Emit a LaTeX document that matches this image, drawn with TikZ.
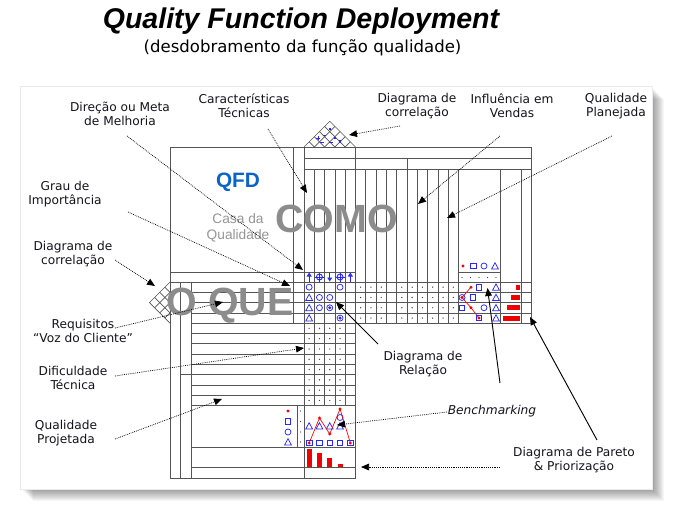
\documentclass[tikz,border=0pt]{standalone}
\usepackage{fontspec}
\setmainfont{DejaVu Sans}
\newfontfamily\arialf{Liberation Sans}
\usetikzlibrary{arrows.meta}
\definecolor{gridc}{RGB}{85,85,85}
\definecolor{symb}{RGB}{40,40,250}
\definecolor{qfdblue}{RGB}{10,100,200}
\definecolor{bigtxt}{RGB}{140,140,140}
\definecolor{smalltxt}{RGB}{150,150,150}
\definecolor{lbltxt}{RGB}{20,20,30}
\definecolor{redc}{RGB}{240,0,0}
\tikzset{
  sym/.style={draw=symb,line width=0.55pt},
  cir/.pic={\draw[sym] (0,0) circle[radius=3];},
  cird/.pic={\draw[sym] (0,0) circle[radius=3];\fill[symb] (0,0) circle[radius=1.7];},
  trg/.pic={\draw[sym] (-3.4,3) -- (3.4,3) -- (0,-3.3) -- cycle;},
  sqr/.pic={\draw[sym] (-2.8,-2.8) rectangle (2.8,2.8);},
  rdot/.pic={\fill[redc] (0,0) circle[radius=1.6];},
  mdot/.pic={\fill[black!75] (0,0) circle[radius=0.7];},
  uparr/.pic={\draw[symb,line width=0.8pt] (0,4.5) -- (0,-1);\fill[symb] (-2.6,-0.5) -- (2.6,-0.5) -- (0,-4.5) -- cycle;},
  dnarr/.pic={\draw[symb,line width=0.8pt] (0,-4.5) -- (0,1);\fill[symb] (-2.6,0.5) -- (2.6,0.5) -- (0,4.5) -- cycle;},
  cplus/.pic={\draw[symb,line width=0.7pt] (0,0) circle[radius=3];\draw[symb,line width=0.7pt] (-4.5,0) -- (4.5,0) (0,-4.5) -- (0,4.5);},
  rbar/.style={fill=redc,draw=none}
}
\begin{document}
\begin{tikzpicture}[x=0.75pt,y=-0.75pt,
  gl/.style={draw=gridc,line width=0.5pt},
  lbl/.style={align=center,text=lbltxt,inner sep=0pt,font=\fontsize{9.15pt}{10.5pt}\selectfont},
  dotarr/.style={line width=0.55pt,dash pattern=on 0.6pt off 0.8pt,-{Triangle[length=6pt,width=5pt]}},
  solarr/.style={line width=0.7pt,-{Triangle[length=6pt,width=5pt]}},
  bigword/.style={text=bigtxt,inner sep=0pt,font=\arialf\bfseries\fontsize{29.5pt}{32pt}\selectfont},
  casa/.style={text=smalltxt,inner sep=0pt,font=\arialf\fontsize{10.3pt}{12pt}\selectfont}]
\useasboundingbox (0,0) rectangle (676,512);
\fill[white] (0,0) rectangle (676,512);
% page with shadow
\foreach \i in {1,...,12} {\fill[black,opacity=0.035] ({21+\i},{87+\i}) rectangle ({652+\i},{489+\i});}
\fill[white] (20,86) rectangle (652,489);
\draw[black!8,line width=0.5pt] (20,86) rectangle (652,489);
% title
\node[anchor=base,inner sep=0pt,font=\arialf\bfseries\itshape\fontsize{21.4pt}{24pt}\selectfont] (title) at (301,28) {Quality Function Deployment};
\node[anchor=base,inner sep=0pt,font=\fontsize{12.4pt}{14pt}\selectfont] (subtitle) at (302.5,52) {(desdobramento da função qualidade)};
% ---------- grid ----------
\draw[gl] (170,147) -- (531,147);
\draw[gl] (170,147) -- (170,478) -- (355.5,478);
\draw[gl] (293,147) -- (293,323.2);
\draw[gl] (304,147) -- (304,478);
\draw[gl] (355.5,147) -- (355.5,478);
\draw[gl] (531,147) -- (531,323.2);
\draw[gl] (304,158) -- (531,158);
\draw[gl] (304,169) -- (531,169);
\draw[gl] (407,158) -- (407,169);
\draw[gl] (170,272) -- (355.5,272);
\draw[gl] (458.5,272) -- (500,272);
\draw[gl] (170,282) -- (531,282);
\foreach \i in {1,...,14} {\draw[gl] ({304+10.3*\i},169) -- ({304+10.3*\i},323.2);}
\draw[gl] (458.5,169) -- (458.5,323.2);
\draw[gl] (500,169) -- (500,323.2);
\draw[gl] (521,169) -- (521,323.2);
\foreach \i in {1,...,4} {\draw[gl] ({304+10.3*\i},323.2) -- ({304+10.3*\i},405.6);}
\foreach \j in {1,...,4} {\draw[gl] (191,{282+10.3*\j}) -- (531,{282+10.3*\j});}
\foreach \j in {5,...,12} {\draw[gl] (191,{282+10.3*\j}) -- (355.5,{282+10.3*\j});}
\draw[gl] (180,374.7) -- (191,374.7);
\draw[gl] (191,447) -- (355.5,447);
\draw[gl] (191,467) -- (355.5,467);
\draw[gl] (180,282) -- (180,478);
\draw[gl] (191,282) -- (191,478);
\draw[gl] (297,405.6) -- (297,447);
% roof
\draw[gl] (304,147) -- (329.75,121.25) -- (355.5,147);
\foreach \i in {1,...,4} {
  \pgfmathsetmacro\xa{304+10.3*\i}
  \pgfmathsetmacro\sa{(355.5-\xa)/2}
  \pgfmathsetmacro\sb{(\xa-304)/2}
  \draw[gl] (\xa,147) -- ++(\sa,-\sa);
  \draw[gl] (\xa,147) -- ++(-\sb,-\sb);
}
% left correlation triangle
\draw[gl] (170,282) -- (149.4,302.6) -- (170,323.2);
\foreach \j in {1,...,3} {
  \pgfmathsetmacro\ya{282+10.3*\j}
  \pgfmathsetmacro\sa{(323.2-\ya)/2}
  \pgfmathsetmacro\sb{(\ya-282)/2}
  \draw[gl] (170,\ya) -- ++(-\sa,\sa);
  \draw[gl] (170,\ya) -- ++(-\sb,-\sb);
}
% roof symbols
\fill[symb] (328.5,127.5) rectangle (331,130);
\fill[symb] (333.8,136.5) rectangle (336.3,139);
\fill[symb] (338.8,140) rectangle (341.3,142.5);
\draw[symb,line width=0.6pt] (316,138) -- (320,138) (318,136) -- (318,140);
\draw[symb,line width=0.6pt] (322.5,135) -- (326,135);
\draw[symb,line width=0.6pt] (320,142.5) -- (324,142.5);
\draw[symb,line width=0.6pt] (329,142.5) -- (333,142.5);
% ---------- texts in house ----------
\node[inner sep=0pt,text=qfdblue,font=\arialf\bfseries\fontsize{15.6pt}{18pt}\selectfont,anchor=base] (qfd) at (238,187) {QFD};
\node[casa,anchor=base] (casa1) at (238,223) {Casa da};
\node[casa,anchor=base] (casa2) at (238,239) {Qualidade};
% arrows row
\pic at (309.15,277) {uparr};
\pic at (319.45,277) {cplus};
\pic at (329.75,277) {dnarr};
\pic at (340.05,277) {cplus};
\pic at (350.35,277) {uparr};
% relation symbols
\pic at (309.15,287.15) {cir};
\pic at (340.05,287.15) {cir};
\pic at (309.15,297.45) {trg};
\pic at (319.45,297.45) {cir};
\pic at (329.75,297.45) {cir};
\pic at (309.15,307.75) {trg};
\pic at (319.45,307.75) {cir};
\pic at (329.75,307.75) {cird};
\pic at (309.15,318.05) {trg};
\pic at (340.05,318.05) {cird};
\foreach \j in {1,...,4} {\foreach \k in {6,7,8,10,11,12,13,14,15} {\pic at ({304+10.3*(\k-0.5)},{282+10.3*(\j-0.5)}) {mdot};}}
\foreach \j in {5,...,12} {\foreach \k in {1,...,4} {\pic at ({304+10.3*(\k-0.5)},{282+10.3*(\j-0.5)}) {mdot};}}
% right benchmarking
\pic at (463,266) {rdot};
\pic at (473.5,266) {sqr};
\pic at (484,266) {cir};
\pic at (495,266) {trg};
\foreach \x in {462,470.5,479,487.5,496} {\pic at (\x,277.5) {mdot};}
\draw[redc,line width=0.5pt] (471,287.15) -- (462,297.45) -- (471,307.75) -- (479,318.05);
\pic at (471,287.15) {rdot};
\pic at (479,287.15) {sqr};
\pic at (496,287.15) {trg};
\pic at (462,297.45) {cir};
\pic at (462,297.45) {rdot};
\pic at (473,297.45) {sqr};
\pic at (496,297.45) {trg};
\pic at (462,307.75) {sqr};
\pic at (471,307.75) {rdot};
\pic at (484,307.75) {cir};
\pic at (496,307.75) {trg};
\pic at (479,318.05) {sqr};
\pic at (479,318.05) {rdot};
\pic at (496,318.05) {trg};
% right pareto bars
\fill[rbar] (515.5,284.6) rectangle (520,289.6);
\fill[rbar] (510.5,295) rectangle (520,300);
\fill[rbar] (506.5,305.3) rectangle (520,310.3);
\fill[rbar] (503,315.6) rectangle (520,320.6);
% bottom benchmarking
\pic at (288,411) {rdot};
\pic at (288,421.5) {sqr};
\pic at (288,432) {cir};
\pic at (288,442) {trg};
\foreach \y in {411,421.5,432,442} {\pic at (300.5,\y) {mdot};}
\foreach \k in {1,...,5} {\pic at ({304+10.3*(\k-0.5)},443) {sqr};}
\foreach \k in {1,...,4} {\pic at ({304+10.3*(\k-0.5)},426) {trg};}
\pic at (340.05,417.5) {cir};
\draw[redc,line width=0.5pt] (309.15,443) -- (319.45,418) -- (329.75,434) -- (340.05,409) -- (350.35,443);
\pic at (309.15,443) {rdot};
\pic at (319.45,418) {rdot};
\pic at (329.75,434) {rdot};
\pic at (340.05,409) {rdot};
\pic at (350.35,443) {rdot};
% bottom pareto bars
\fill[rbar] (306.7,449) rectangle (311.7,466.5);
\fill[rbar] (317,453) rectangle (322,466.5);
\fill[rbar] (327.3,458) rectangle (332.3,466.5);
\fill[rbar] (337.6,463.5) rectangle (342.6,466.5);
% big words
\node[bigword,anchor=base] (como) at (336.5,232.5) {COMO};
\node[bigword,anchor=base] (oque) at (230,315) {O QUE};
% ---------- labels ----------
\node[lbl] (dir) at (120,114) {Direção ou Meta\\de Melhoria};
\node[lbl] (car) at (244,106) {Características\\Técnicas};
\node[lbl] (dcorA) at (417,106) {Diagrama de\\correlação};
\node[lbl] (infl) at (512,106) {Influência em\\Vendas};
\node[lbl] (qplan) at (616,106) {Qualidade\\Planejada};
\node[lbl] (grau) at (65,194) {Grau de\\Importância};
\node[lbl] (dcorB) at (73,254) {Diagrama de\\correlação};
\node[lbl] (req) at (83,331) {Requisitos\\“Voz do Cliente”};
\node[lbl] (dif) at (73,378) {Dificuldade\\Técnica};
\node[lbl] (qproj) at (66,433) {Qualidade\\Projetada};
\node[lbl] (drel) at (423,364) {Diagrama de\\Relação};
\node[lbl,font=\itshape\fontsize{9.15pt}{10.5pt}\selectfont] (bench) at (492,411) {Benchmarking};
\node[lbl] (pareto) at (574,460) {Diagrama de Pareto\\\& Priorização};
% ---------- connectors ----------
\coordinate (dirS) at (127,136);   \coordinate (dirE) at (303,270);
\coordinate (carS) at (268,129);   \coordinate (carE) at (307,193);
\coordinate (dcorAS) at (400,126); \coordinate (dcorAE) at (349,135);
\coordinate (inflS) at (500,136);  \coordinate (inflE) at (418,204);
\coordinate (qplanS) at (612,136); \coordinate (qplanE) at (447,218);
\coordinate (grauS) at (128,212);  \coordinate (grauE) at (290,286);
\coordinate (dcorBS) at (115,260); \coordinate (dcorBE) at (155,286);
\coordinate (reqS) at (115,328);   \coordinate (reqE) at (223,302);
\coordinate (difS) at (115,376);   \coordinate (difE) at (304,348);
\coordinate (qprojS) at (115,439); \coordinate (qprojE) at (222,399);
\coordinate (drelS) at (378,344);  \coordinate (drelE) at (336,302);
\coordinate (benchS) at (447,412); \coordinate (benchE) at (337,425);
\coordinate (benchT) at (500,383); \coordinate (benchU) at (487.5,288);
\coordinate (parS) at (500,467);   \coordinate (parE) at (361,467);
\coordinate (parT) at (597,440);   \coordinate (parU) at (530,317);
\draw[dotarr] (dirS) -- (dirE);
\draw[dotarr] (carS) -- (carE);
\draw[dotarr] (dcorAS) -- (dcorAE);
\draw[dotarr] (inflS) -- (inflE);
\draw[dotarr] (qplanS) -- (qplanE);
\draw[dotarr] (grauS) -- (grauE);
\draw[dotarr] (dcorBS) -- (dcorBE);
\draw[dotarr] (reqS) -- (reqE);
\draw[dotarr] (difS) -- (difE);
\draw[dotarr] (qprojS) -- (qprojE);
\draw[solarr] (drelS) -- (drelE);
\draw[dotarr] (benchS) -- (benchE);
\draw[solarr] (benchT) -- (benchU);
\draw[dotarr] (parS) -- (parE);
\draw[solarr] (parT) -- (parU);
\end{tikzpicture}
\end{document}
